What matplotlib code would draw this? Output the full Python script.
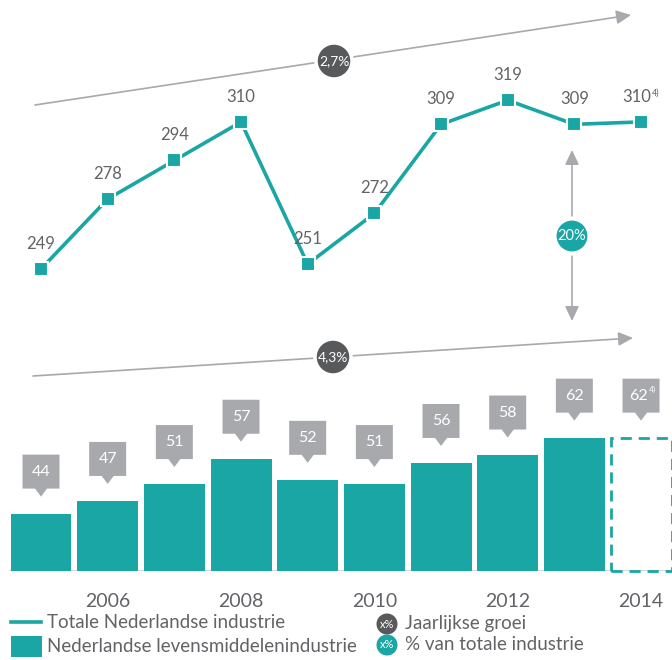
import matplotlib.pyplot as plt
from matplotlib.patches import Circle, Polygon, Rectangle

plt.rcParams["font.family"] = ["Lato", "DejaVu Sans"]

# Omzet in miljard euro
years = [2005, 2006, 2007, 2008, 2009, 2010, 2011, 2012, 2013, 2014]
totaal = [249, 278, 294, 310, 251, 272, 309, 319, 309, 310]
levensmiddelen = [44, 47, 51, 57, 52, 51, 56, 58, 62, 62]
tick_years = [2006, 2008, 2010, 2012, 2014]
groei_totaal = "2,7%"
groei_levensmiddelen = "4,3%"
aandeel = "20%"
voetnoot = "4)"

TEAL = "#1aa6a4"
DARK = "#58595b"
GREY = "#a7a9ac"
TEXT = "#626366"

W, H = 672, 660
fig = plt.figure(figsize=(W / 100, H / 100), dpi=100)


def frame(top, bottom):
    # axes over the full width between two pixel rows (counted from the top)
    ax = fig.add_axes([0, 1 - bottom / H, 1, (bottom - top) / H])
    ax.axis("off")
    return ax


step = 66.67  # pixels per year
x0 = 2005 - 41 / step
x1 = x0 + W / step

# --- lijn: totale industrie ---
ax_line = frame(0, 340)
ax_line.set_xlim(x0, x1)
ax_line.set_ylim(219.5, 360.6)
ax_line.plot(years, totaal, color=TEAL, lw=2.6, marker="s", ms=10,
             mfc=TEAL, mec="white", mew=1.5, zorder=3)
for x, v in zip(years[:-1], totaal[:-1]):
    ax_line.annotate(str(v), (x, v), xytext=(0, 18), textcoords="offset points",
                     ha="center", va="center", fontsize=12, color=TEXT)
ax_line.annotate(str(totaal[-1]), (years[-1], totaal[-1]), xytext=(-3, 18),
                 textcoords="offset points", ha="center", va="center",
                 fontsize=12, color=TEXT)
ax_line.annotate(voetnoot, (years[-1], totaal[-1]), xytext=(8, 21),
                 textcoords="offset points", ha="left", va="center",
                 fontsize=6.5, color=TEXT)

# --- staven: levensmiddelenindustrie ---
base = 30.4
ax_bar = frame(360, 571)
ax_bar.axis("on")
ax_bar.set_xlim(x0, x1)
ax_bar.set_ylim(base, 80.4)
for s in ax_bar.spines.values():
    s.set_visible(False)
ax_bar.set_yticks([])
bw = 61 / step
ax_bar.bar(years[:-1], [v - base for v in levensmiddelen[:-1]], bottom=base,
           width=bw, color=TEAL, zorder=2)
ax_bar.bar(years[-1], levensmiddelen[-1] - base, bottom=base, width=bw,
           fill=False, edgecolor=TEAL, lw=2, linestyle=(0, (4, 2.5)),
           clip_on=False, zorder=2)
ax_bar.axhline(base, xmin=10 / W, xmax=1, color="#d9d9da", lw=1.5, zorder=1)
ax_bar.set_xticks(tick_years)
ax_bar.set_xticklabels([str(y) for y in tick_years])
ax_bar.tick_params(axis="x", length=0, pad=16, labelsize=14, labelcolor=TEXT)

# --- overlay in pixels for pijlen, labels en legenda ---
ov = fig.add_axes([0, 0, 1, 1])
ov.set_xlim(0, W)
ov.set_ylim(H, 0)
ov.axis("off")


def to_px(ax, x, y):
    dx, dy = ax.transData.transform((x, y))
    return dx, H - dy


# callouts boven de staven
for i, (x, v) in enumerate(zip(years, levensmiddelen)):
    cx, cy = to_px(ax_bar, x, v)
    tip = cy - 17
    bot = tip - 8
    top = bot - 34
    ov.add_patch(Polygon([(cx - 18.5, top), (cx + 18.5, top), (cx + 18.5, bot),
                          (cx + 6, bot), (cx, tip), (cx - 6, bot),
                          (cx - 18.5, bot)], closed=True, color=GREY, lw=0))
    if i == len(years) - 1:
        ov.text(cx - 3, (top + bot) / 2, str(v), ha="center", va="center",
                fontsize=11.5, color="white")
        ov.text(cx + 8, top + 11, voetnoot, ha="left", va="center",
                fontsize=6, color="white")
    else:
        ov.text(cx, (top + bot) / 2, str(v), ha="center", va="center",
                fontsize=11.5, color="white")

HEAD = "head_length=0.8,head_width=0.38"


def trend(start, end, label, centre):
    ov.annotate("", xy=end, xytext=start,
                arrowprops=dict(arrowstyle="-|>," + HEAD, color=GREY, lw=1.2,
                                shrinkA=0, shrinkB=0, mutation_scale=11))
    ov.add_patch(Circle(centre, 18, facecolor=DARK, edgecolor="white",
                        lw=2.5, zorder=5))
    ov.text(centre[0], centre[1], label, ha="center", va="center",
            fontsize=10, color="white", zorder=6)


trend((35, 105), (631, 15), groei_totaal, (334, 61))
trend((33, 376), (633, 338), groei_levensmiddelen, (333, 357))

# aandeel van de totale industrie
ov.annotate("", xy=(572, 150), xytext=(572, 321),
            arrowprops=dict(arrowstyle="<|-|>," + HEAD, color=GREY, lw=1.2,
                            shrinkA=0, shrinkB=0, mutation_scale=11))
ov.add_patch(Circle((572, 236), 17.5, facecolor=TEAL, edgecolor="white",
                    lw=3, zorder=5))
ov.text(572, 236, aandeel, ha="center", va="center", fontsize=10.5,
        color="white", zorder=6)

# legenda
ov.plot([11, 41], [622, 622], color=TEAL, lw=2.6)
ov.text(47, 622, "Totale Nederlandse industrie", va="center", fontsize=13.5,
        color=TEXT)
ov.add_patch(Rectangle((11, 636), 31, 21, color=TEAL, lw=0))
ov.text(47, 647, "Nederlandse levensmiddelenindustrie", va="center",
        fontsize=13.5, color=TEXT)
for y, c, label in [(624, DARK, "Jaarlijkse groei"),
                    (645, TEAL, "% van totale industrie")]:
    ov.add_patch(Circle((387, y), 10.5, color=c, lw=0))
    ov.text(387, y, "x%", ha="center", va="center", fontsize=8, color="white")
    ov.text(405, y, label, va="center", fontsize=13.5, color=TEXT)

fig.savefig("out.png", dpi=100)
plt.close(fig)
